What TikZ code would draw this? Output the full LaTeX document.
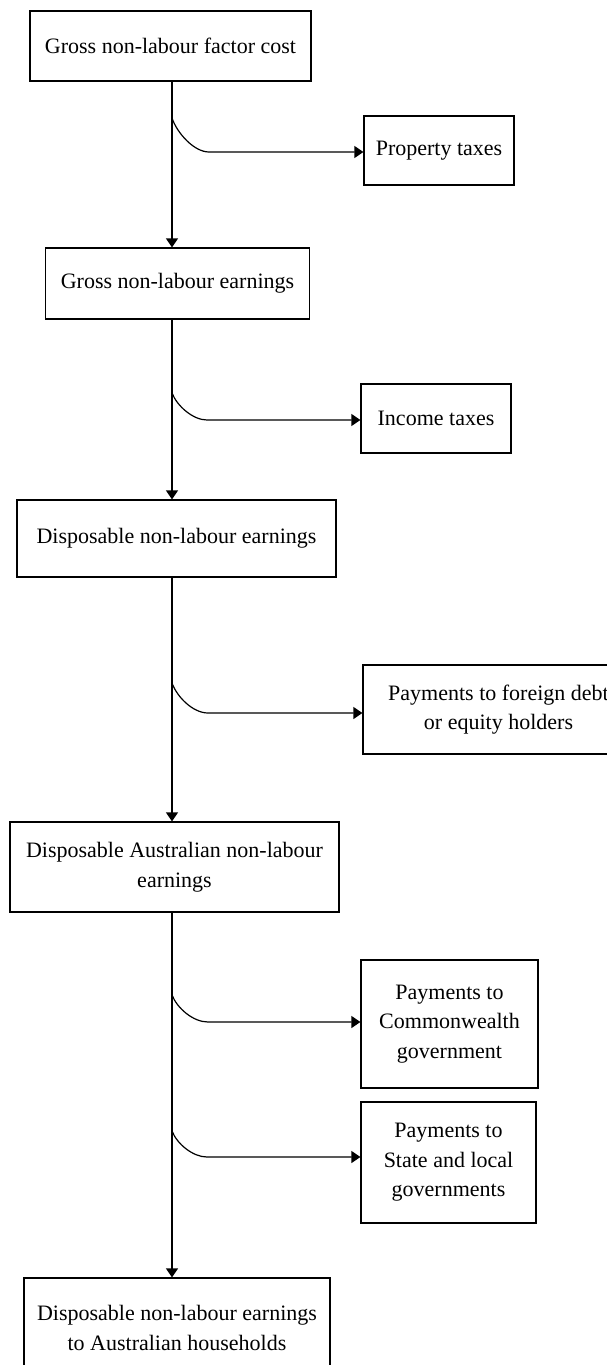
\documentclass[tikz,border=0pt]{standalone}
\usepackage{fontspec}
\setmainfont{Liberation Serif}
\usetikzlibrary{arrows.meta}
\begin{document}
\begin{tikzpicture}[x=1pt,y=-1pt,
  box/.style={draw, line width=1.2pt, align=center, inner sep=0pt,
    font=\fontsize{22}{29.5}\selectfont},
  arr/.style={line width=1.2pt, -{Triangle[length=9pt,width=12pt]}}]
\useasboundingbox (0,0) rectangle (607,1365);
\clip (0,0) rectangle (607,1365);
% main column
\node[box, minimum width=281pt, minimum height=70pt] (b1) at (170.5,46) {Gross non-labour factor cost};
\node[box, minimum width=264pt, minimum height=71pt] (b2) at (177.5,283.5) {Gross non-labour earnings};
\node[box, minimum width=319pt, minimum height=77pt] (b3) at (176.5,538.5) {Disposable non-labour earnings};
\node[box, minimum width=329pt, minimum height=90pt] (b4) at (174.5,867) {Disposable Australian non-labour\\earnings};
\node[box, minimum width=306pt, minimum height=100pt] (b5) at (177,1328) {Disposable non-labour earnings\\to Australian households};
% side boxes
\node[box, minimum width=150pt, minimum height=69pt] (pt) at (439,150.5) {Property taxes};
\node[box, minimum width=150pt, minimum height=69pt] (it) at (436,418.5) {Income taxes};
\node[box, minimum width=271pt, minimum height=89pt] (fd) at (498.5,709.5) {Payments to foreign debt\\or equity holders};
\node[box, minimum width=177pt, minimum height=128pt] (cg) at (449.5,1024) {Payments to\\Commonwealth\\government};
\node[box, minimum width=175pt, minimum height=121pt] (sg) at (448.5,1162.5) {Payments to\\State and local\\governments};
% spine
\coordinate (spine) at (172,0);
\draw[arr] (b1.south -| spine) -- (b2.north -| spine);
\draw[arr] (b2.south -| spine) -- (b3.north -| spine);
\draw[arr] (b3.south -| spine) -- (b4.north -| spine);
\draw[arr] (b4.south -| spine) -- (b5.north -| spine);
% branch points
\coordinate (s1) at (172,118);  \coordinate (h1) at (209,152);
\coordinate (s2) at (172,393);  \coordinate (h2) at (207,420);
\coordinate (s3) at (172,683);  \coordinate (h3) at (208,713);
\coordinate (s4) at (172,995);  \coordinate (h4) at (208,1022);
\coordinate (s5) at (172,1131); \coordinate (h5) at (207,1157);
\draw[arr] (s1) .. controls +(5,15) and +(-15,0) .. (h1) -- (pt.west |- h1);
\draw[arr] (s2) .. controls +(5,13) and +(-14,0) .. (h2) -- (it.west |- h2);
\draw[arr] (s3) .. controls +(5,14) and +(-15,0) .. (h3) -- (fd.west |- h3);
\draw[arr] (s4) .. controls +(5,13) and +(-15,0) .. (h4) -- (cg.west |- h4);
\draw[arr] (s5) .. controls +(5,13) and +(-14,0) .. (h5) -- (sg.west |- h5);
\end{tikzpicture}
\end{document}
